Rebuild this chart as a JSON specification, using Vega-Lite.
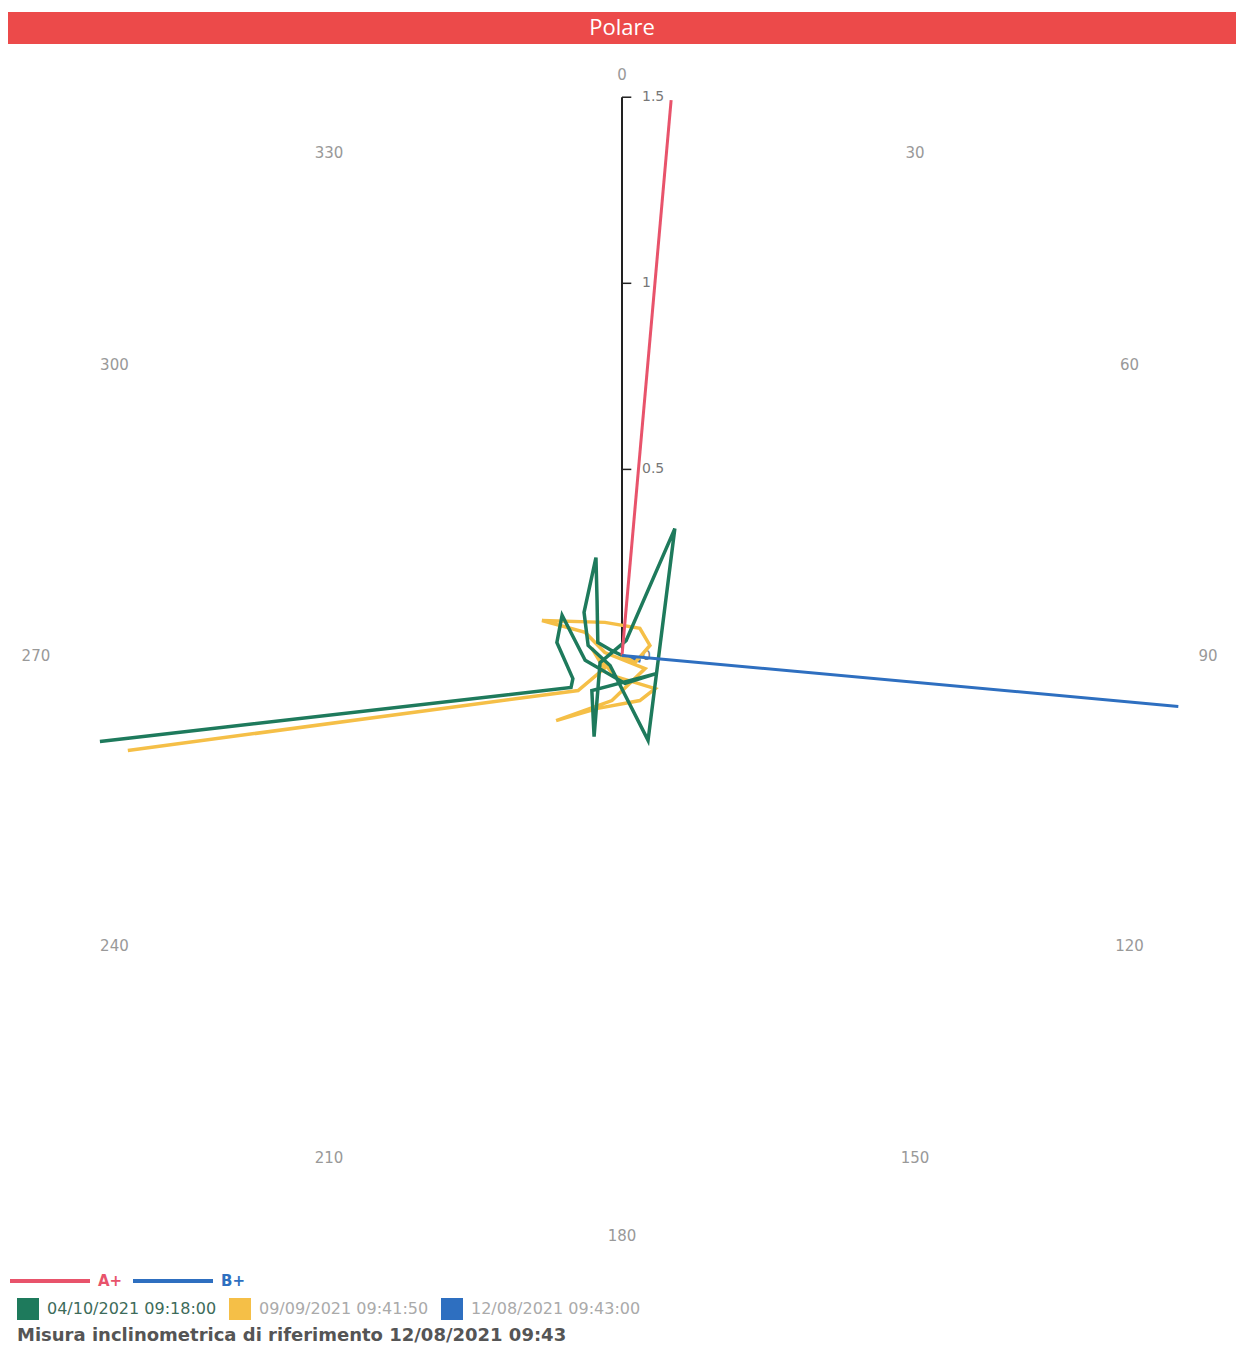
{
  "$schema": "https://vega.github.io/schema/vega-lite/v6.json",
  "background": "white",
  "padding": {"left": 8, "top": 12, "right": 0, "bottom": 0},
  "spacing": 16,
  "config": {"view": {"stroke": null}, "font": "DejaVu Sans"},
  "vconcat": [
    {
      "width": 1228,
      "height": 32,
      "view": {"fill": "#ec4a4a", "stroke": null},
      "data": {"values": [{"t": "Polare"}]},
      "mark": {"type": "text", "color": "white", "fontSize": 22, "font": "Open Sans", "baseline": "middle", "align": "center"},
      "encoding": {"text": {"field": "t"}}
    },
    {
      "width": 1228,
      "height": 1191,
      "encoding": {
        "x": {"field": "x", "type": "quantitative", "scale": {"domain": [-1.65, 1.65], "nice": false, "zero": false}, "axis": null},
        "y": {"field": "y", "type": "quantitative", "scale": {"domain": [-1.6, 1.6], "nice": false, "zero": false}, "axis": null}
      },
      "layer": [
        {
          "data": {"values": [{"x": 0, "y": 0, "y2": 1.5}]},
          "mark": {"type": "rule", "color": "#222222", "strokeWidth": 2},
          "encoding": {"y2": {"field": "y2"}}
        },
        {
          "data": {"values": [{"x": 0, "x2": 0.025, "y": 0.5}, {"x": 0, "x2": 0.025, "y": 1}, {"x": 0, "x2": 0.025, "y": 1.5}]},
          "mark": {"type": "rule", "color": "#222222", "strokeWidth": 1.5},
          "encoding": {"x2": {"field": "x2"}}
        },
        {
          "data": {"values": [{"x": 0, "y": 0, "t": "0"}, {"x": 0, "y": 0.5, "t": "0.5"}, {"x": 0, "y": 1, "t": "1"}, {"x": 0, "y": 1.5, "t": "1.5"}]},
          "mark": {"type": "text", "align": "left", "baseline": "middle", "dx": 20, "fontSize": 14, "color": "#777777"},
          "encoding": {"text": {"field": "t"}}
        },
        {
          "data": {"values": [{"a": 0}, {"a": 30}, {"a": 60}, {"a": 90}, {"a": 120}, {"a": 150}, {"a": 180}, {"a": 210}, {"a": 240}, {"a": 270}, {"a": 300}, {"a": 330}]},
          "transform": [
            {"calculate": "1.575 * sin(datum.a * PI / 180)", "as": "x"},
            {"calculate": "1.56 * cos(datum.a * PI / 180)", "as": "y"}
          ],
          "mark": {"type": "text", "align": "center", "baseline": "middle", "fontSize": 15, "color": "#999999"},
          "encoding": {"text": {"field": "a", "type": "nominal"}}
        },
        {
          "data": {"values": [
            {"s": "12/08/2021 09:43:00", "i": 1, "x": 0, "y": 0},
            {"s": "12/08/2021 09:43:00", "i": 2, "x": 0.03, "y": -0.01},
            {"s": "12/08/2021 09:43:00", "i": 3, "x": 0.05, "y": -0.015},
            {"s": "09/09/2021 09:41:50", "i": 1, "x": 0, "y": 0},
            {"s": "09/09/2021 09:41:50", "i": 2, "x": 0.035, "y": -0.019},
            {"s": "09/09/2021 09:41:50", "i": 3, "x": 0.075, "y": 0.027},
            {"s": "09/09/2021 09:41:50", "i": 4, "x": 0.048, "y": 0.073},
            {"s": "09/09/2021 09:41:50", "i": 5, "x": -0.046, "y": 0.089},
            {"s": "09/09/2021 09:41:50", "i": 6, "x": -0.215, "y": 0.094},
            {"s": "09/09/2021 09:41:50", "i": 7, "x": -0.099, "y": 0.062},
            {"s": "09/09/2021 09:41:50", "i": 8, "x": -0.046, "y": 0.008},
            {"s": "09/09/2021 09:41:50", "i": 9, "x": 0.062, "y": -0.035},
            {"s": "09/09/2021 09:41:50", "i": 10, "x": -0.027, "y": -0.121},
            {"s": "09/09/2021 09:41:50", "i": 11, "x": -0.177, "y": -0.175},
            {"s": "09/09/2021 09:41:50", "i": 12, "x": -0.065, "y": -0.142},
            {"s": "09/09/2021 09:41:50", "i": 13, "x": 0.048, "y": -0.121},
            {"s": "09/09/2021 09:41:50", "i": 14, "x": 0.089, "y": -0.089},
            {"s": "09/09/2021 09:41:50", "i": 15, "x": -0.019, "y": -0.056},
            {"s": "09/09/2021 09:41:50", "i": 16, "x": -0.081, "y": 0.019},
            {"s": "09/09/2021 09:41:50", "i": 17, "x": -0.048, "y": -0.035},
            {"s": "09/09/2021 09:41:50", "i": 18, "x": -0.118, "y": -0.094},
            {"s": "09/09/2021 09:41:50", "i": 19, "x": -1.328, "y": -0.255},
            {"s": "04/10/2021 09:18:00", "i": 1, "x": 0, "y": 0},
            {"s": "04/10/2021 09:18:00", "i": 2, "x": -0.027, "y": 0.013},
            {"s": "04/10/2021 09:18:00", "i": 3, "x": -0.065, "y": 0.035},
            {"s": "04/10/2021 09:18:00", "i": 4, "x": -0.067, "y": 0.148},
            {"s": "04/10/2021 09:18:00", "i": 5, "x": -0.07, "y": 0.263},
            {"s": "04/10/2021 09:18:00", "i": 6, "x": -0.102, "y": 0.116},
            {"s": "04/10/2021 09:18:00", "i": 7, "x": -0.091, "y": 0.027},
            {"s": "04/10/2021 09:18:00", "i": 8, "x": -0.032, "y": -0.027},
            {"s": "04/10/2021 09:18:00", "i": 9, "x": 0.07, "y": -0.228},
            {"s": "04/10/2021 09:18:00", "i": 10, "x": 0.142, "y": 0.341},
            {"s": "04/10/2021 09:18:00", "i": 11, "x": 0.011, "y": 0.04},
            {"s": "04/10/2021 09:18:00", "i": 12, "x": -0.059, "y": -0.019},
            {"s": "04/10/2021 09:18:00", "i": 13, "x": -0.075, "y": -0.218},
            {"s": "04/10/2021 09:18:00", "i": 14, "x": -0.081, "y": -0.094},
            {"s": "04/10/2021 09:18:00", "i": 15, "x": 0.094, "y": -0.048},
            {"s": "04/10/2021 09:18:00", "i": 16, "x": 0.008, "y": -0.075},
            {"s": "04/10/2021 09:18:00", "i": 17, "x": -0.099, "y": -0.013},
            {"s": "04/10/2021 09:18:00", "i": 18, "x": -0.161, "y": 0.108},
            {"s": "04/10/2021 09:18:00", "i": 19, "x": -0.175, "y": 0.035},
            {"s": "04/10/2021 09:18:00", "i": 20, "x": -0.132, "y": -0.062},
            {"s": "04/10/2021 09:18:00", "i": 21, "x": -0.137, "y": -0.086},
            {"s": "04/10/2021 09:18:00", "i": 22, "x": -1.403, "y": -0.231}
          ]},
          "mark": {"type": "line", "strokeWidth": 3.5, "strokeJoin": "miter"},
          "encoding": {
            "color": {
              "field": "s",
              "type": "nominal",
              "sort": null,
              "scale": {"domain": ["04/10/2021 09:18:00", "09/09/2021 09:41:50", "12/08/2021 09:43:00"], "range": ["#1e7a5c", "#f5bf47", "#2e6fc0"]},
              "legend": {
                "orient": "none",
                "legendX": 9,
                "legendY": 1286,
                "direction": "horizontal",
                "title": "Misura inclinometrica di riferimento 12/08/2021 09:43",
                "titleOrient": "bottom",
                "titleAnchor": "start",
                "titleAlign": "left",
                "titleFontSize": 18,
                "titleFontWeight": "bold",
                "titleColor": "#555555",
                "titlePadding": 7,
                "titleLimit": 0,
                "symbolType": "square",
                "symbolSize": 484,
                "symbolStrokeWidth": 0,
                "labelFontSize": 16,
                "labelOffset": 8,
                "labelLimit": 0,
                "columnPadding": 12,
                "padding": 0,
                "encode": {
                  "symbols": {"update": {"fill": {"scale": "color", "field": "value"}, "opacity": {"value": 1}}},
                  "labels": {"update": {"fill": [{"test": "datum.value === '04/10/2021 09:18:00'", "value": "#3d6b5a"}, {"value": "#aaaaaa"}]}}
                }
              }
            },
            "order": {"field": "i", "type": "quantitative"}
          }
        },
        {
          "data": {"values": [
            {"ax": "A+", "i": 1, "x": 0, "y": 0},
            {"ax": "A+", "i": 2, "x": 0.132, "y": 1.492},
            {"ax": "B+", "i": 1, "x": 0, "y": 0},
            {"ax": "B+", "i": 2, "x": 1.495, "y": -0.137}
          ]},
          "mark": {"type": "line", "strokeWidth": 3},
          "encoding": {
            "stroke": {
              "field": "ax",
              "type": "nominal",
              "scale": {"domain": ["A+", "B+"], "range": ["#e8536b", "#2e6fc0"]},
              "legend": {
                "orient": "none",
                "legendX": 0,
                "legendY": 1227,
                "direction": "horizontal",
                "title": null,
                "symbolType": "stroke",
                "symbolSize": 6400,
                "symbolStrokeWidth": 4,
                "labelFontSize": 15,
                "labelFontWeight": "bold",
                "labelOffset": 6,
                "columnPadding": 2,
                "padding": 0,
                "encode": {"labels": {"update": {"fill": {"scale": "stroke", "field": "value"}}}}
              }
            },
            "order": {"field": "i", "type": "quantitative"}
          }
        }
      ]
    }
  ]
}
